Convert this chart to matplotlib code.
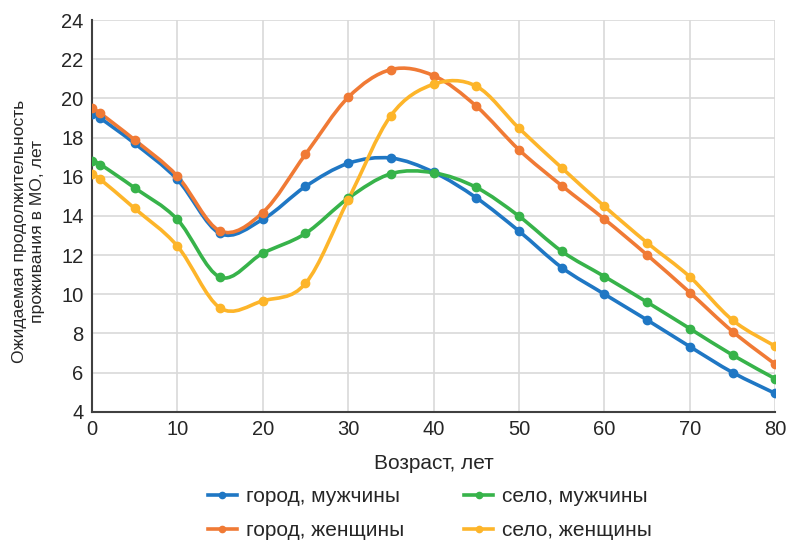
import matplotlib.pyplot as plt
from matplotlib.path import Path
from matplotlib.patches import PathPatch

plt.rcParams['font.family'] = ['Liberation Sans', 'DejaVu Sans']

# Data
ages = [0, 1, 5, 10, 15, 20, 25, 30, 35, 40, 45, 50, 55, 60, 65, 70, 75, 80]
gorod_m = [19.2, 18.98, 17.7, 15.86, 13.1, 13.82, 15.5, 16.68, 16.95, 16.23, 14.92, 13.22, 11.36, 10.0, 8.68, 7.32, 6.0, 4.93]
gorod_zh = [19.49, 19.23, 17.88, 16.03, 13.23, 14.17, 17.14, 20.05, 21.47, 21.16, 19.6, 17.37, 15.54, 13.83, 12.0, 10.08, 8.09, 6.42]
selo_m = [16.8, 16.62, 15.43, 13.82, 10.87, 12.09, 13.1, 14.9, 16.15, 16.2, 15.45, 13.98, 12.19, 10.9, 9.59, 8.24, 6.89, 5.68]
selo_zh = [16.13, 15.86, 14.38, 12.46, 9.3, 9.66, 10.55, 14.82, 19.12, 20.72, 20.62, 18.47, 16.45, 14.48, 12.62, 10.88, 8.67, 7.34]

names = ['город, мужчины', 'город, женщины', 'село, мужчины', 'село, женщины']
series = [gorod_m, gorod_zh, selo_m, selo_zh]
colors = ['#1f77c4', '#f07a35', '#37b34a', '#fdb52a']

yticks = list(range(4, 25, 2))
xticks = list(range(0, 81, 10))


def smooth_path(xs, ys):
    # Excel-like smoothed line: Catmull-Rom segments as cubic Bezier
    pts = list(zip(xs, ys))
    verts = [pts[0]]
    codes = [Path.MOVETO]
    n = len(pts)
    for i in range(n - 1):
        p0 = pts[i - 1] if i > 0 else pts[i]
        p1 = pts[i]
        p2 = pts[i + 1]
        p3 = pts[i + 2] if i + 2 < n else pts[i + 1]
        c1 = (p1[0] + (p2[0] - p0[0]) / 6, p1[1] + (p2[1] - p0[1]) / 6)
        c2 = (p2[0] - (p3[0] - p1[0]) / 6, p2[1] - (p3[1] - p1[1]) / 6)
        verts += [c1, c2, p2]
        codes += [Path.CURVE4] * 3
    return Path(verts, codes)


fig = plt.figure(figsize=(7.92, 5.41), dpi=100)
ax = fig.add_axes([0.116, 0.239, 0.863, 0.724])

for ys, name, c in zip(series, names, colors):
    ax.add_patch(PathPatch(smooth_path(ages, ys), facecolor='none', edgecolor=c,
                           lw=2.6, capstyle='round', joinstyle='round', zorder=3))
    ax.plot(ages, ys, 'o', color=c, markersize=6, zorder=4)
    ax.plot([], [], '-o', color=c, lw=2.6, markersize=4.5, label=name)

ax.set_xlim(0, 80)
ax.set_ylim(4, 24)
ax.set_xticks(xticks)
ax.set_yticks(yticks)
ax.grid(True, color='#d9d9d9', lw=1.2)
ax.set_axisbelow(True)
for s in ['top', 'right']:
    ax.spines[s].set_visible(False)
for s in ['left', 'bottom']:
    ax.spines[s].set_color('#404040')
    ax.spines[s].set_linewidth(1.5)
ax.tick_params(length=0, labelsize=14.5, colors='#262626', pad=6)

ax.set_xlabel('Возраст, лет', fontsize=15, color='#262626', labelpad=11)
ax.set_ylabel('Ожидаемая продолжительность\nпроживания в МО, лет', fontsize=12.6,
              color='#262626')
ax.yaxis.set_label_coords(-0.069, 0.46)

handles, labels = ax.get_legend_handles_labels()
fig.legend(handles, labels, loc='center', bbox_to_anchor=(0.543, 0.051), ncol=2,
           frameon=False, fontsize=15, columnspacing=2.85, handlelength=1.4,
           handletextpad=0.45, labelspacing=0.72, labelcolor='#262626')

fig.savefig('out.png', dpi=100)
